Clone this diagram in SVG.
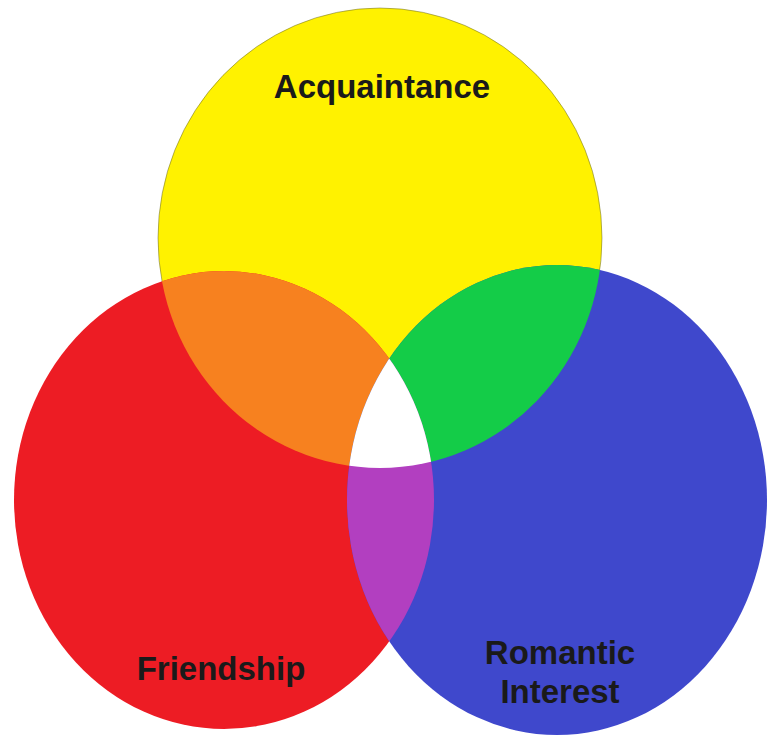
<svg xmlns="http://www.w3.org/2000/svg" width="774" height="738" viewBox="0 0 774 738">
  <style>
    .lbl { font-family: "Liberation Sans", Arial, sans-serif; font-size: 33px; font-weight: bold; fill: #1a1a1a; text-anchor: middle; }
    .edge { stroke: #5a5a2a; stroke-width: 0.8; stroke-opacity: 0.6; }
  </style>
  <defs>
    <ellipse id="shYellow" cx="380" cy="238" rx="222" ry="230"/>
    <ellipse id="shRed" cx="224" cy="500" rx="210" ry="229"/>
    <ellipse id="shBlue" cx="557" cy="500" rx="210" ry="235"/>
    <clipPath id="clipRed"><use href="#shRed"/></clipPath>
    <clipPath id="clipBlue"><use href="#shBlue"/></clipPath>
    <clipPath id="clipYellow"><use href="#shYellow"/></clipPath>
  </defs>
  <rect width="774" height="738" fill="#ffffff"/>
  <g id="acquaintance">
    <use href="#shYellow" fill="#fff200" class="edge"/>
  </g>
  <g id="friendship">
    <use href="#shRed" fill="#ed1c24"/>
  </g>
  <g id="romantic-interest">
    <use href="#shBlue" fill="#3f48cc"/>
  </g>
  <g id="overlaps">
    <g clip-path="url(#clipRed)"><use href="#shYellow" fill="#f7811f"/></g>
    <g clip-path="url(#clipBlue)"><use href="#shYellow" fill="#14cc48"/></g>
    <g clip-path="url(#clipBlue)"><use href="#shRed" fill="#b23fc0"/></g>
    <g clip-path="url(#clipYellow)"><g clip-path="url(#clipBlue)"><use href="#shRed" fill="#ffffff"/></g></g>
  </g>
  <g id="labels">
    <text class="lbl" x="382" y="98">Acquaintance</text>
    <text class="lbl" x="221" y="680">Friendship</text>
    <text class="lbl" x="560" y="664">Romantic</text>
    <text class="lbl" x="560" y="703">Interest</text>
  </g>
</svg>
